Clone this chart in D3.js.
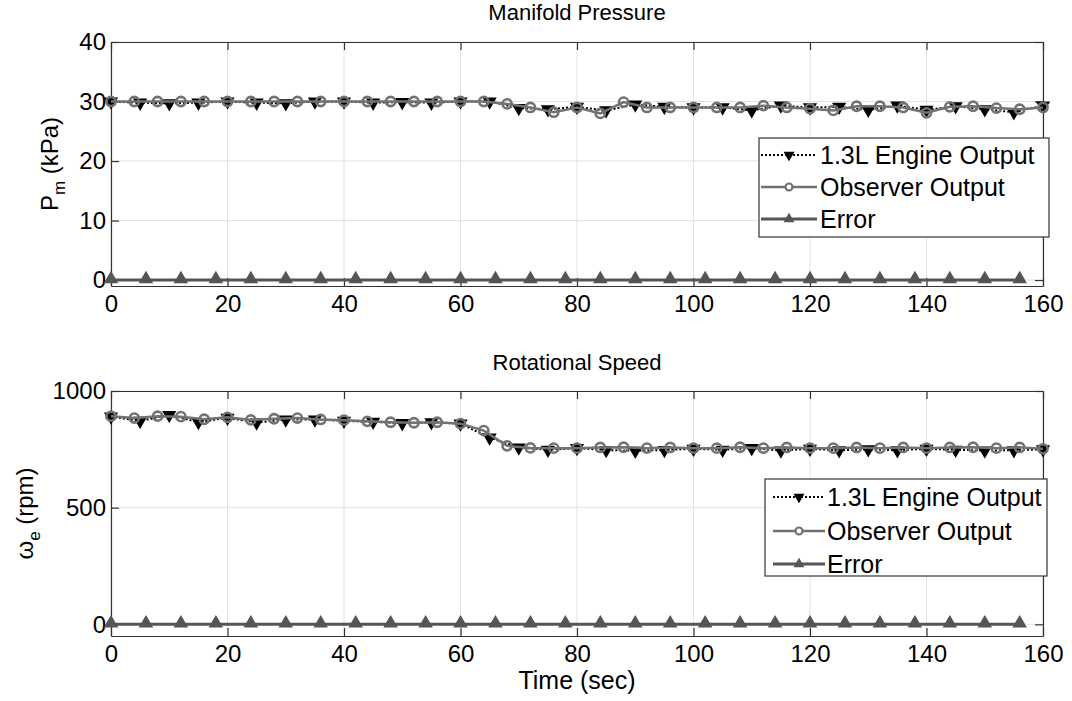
<!DOCTYPE html>
<html>
<head>
<meta charset="utf-8">
<script src="https://cdn.jsdelivr.net/npm/d3@7"></script>
<style>
  body { margin: 0; background: #fff; }
  svg { display: block; }
  text { font-family: "Liberation Sans", Arial, sans-serif; fill: #000; }
</style>
</head>
<body>
<svg id="chart" width="1072" height="701"></svg>
<script>
// ---- data ----
const xTicks = [0, 20, 40, 60, 80, 100, 120, 140, 160];

const engineTime = [0, 5, 10, 15, 20, 25, 30, 35, 40, 45, 50, 55, 60, 65, 70, 75, 80,
  85, 90, 95, 100, 105, 110, 115, 120, 125, 130, 135, 140, 145, 150, 155, 160];
const observerTime = [0, 4, 8, 12, 16, 20, 24, 28, 32, 36, 40, 44, 48, 52, 56, 60, 64,
  68, 72, 76, 80, 84, 88, 92, 96, 100, 104, 108, 112, 116, 120, 124, 128, 132, 136, 140,
  144, 148, 152, 156, 160];
const errorTime = [0, 6, 12, 18, 24, 30, 36, 42, 48, 54, 60, 66, 72, 78, 84, 90, 96,
  102, 108, 114, 120, 126, 132, 138, 144, 150, 156];

// Manifold pressure (kPa)
const pTicks = [0, 10, 20, 30, 40];
const engineP = [30, 29.8, 29.7, 29.8, 30, 29.8, 29.7, 30, 30, 29.8, 29.9, 29.8, 30, 30,
  28.9, 28.7, 29.1, 28.5, 29.5, 29.1, 29.0, 29.0, 28.5, 29.3, 29.0, 29.1, 28.6, 29.3,
  28.6, 29.2, 28.7, 28.2, 29.3];
const observerP = [30, 30, 30, 30, 30, 30, 30, 30, 30, 30, 30, 30, 30, 30, 30, 30, 30,
  29.6, 29.0, 28.2, 29.0, 28.0, 29.9, 29.0, 29.0, 29.0, 29.0, 29.0, 29.3, 29.0, 28.8,
  28.5, 29.2, 29.2, 29.0, 28.1, 29.1, 29.2, 28.9, 28.7, 29.0];
const errorP = [0, 0, 0, 0, 0, 0, 0, 0, 0, 0, 0, 0, 0, 0, 0, 0, 0, 0, 0, 0, 0, 0, 0, 0, 0, 0, 0];

// Rotational speed (rpm)
const wTicks = [0, 500, 1000];
const engineW = [890, 872, 897, 867, 885, 865, 878, 878, 872, 868, 862, 866, 860, 800,
  758, 748, 755, 747, 744, 747, 752, 748, 755, 745, 752, 746, 750, 746, 752, 748, 745,
  746, 750];
const observerW = [892, 884, 892, 890, 879, 887, 876, 881, 884, 878, 875, 870, 866, 864,
  866, 860, 830, 765, 756, 755, 755, 758, 759, 755, 758, 755, 755, 759, 755, 758, 755,
  755, 758, 755, 758, 755, 758, 759, 755, 758, 752];
const errorW = [0, 0, 0, 0, 0, 0, 0, 0, 0, 0, 0, 0, 0, 0, 0, 0, 0, 0, 0, 0, 0, 0, 0, 0, 0, 0, 0];

const legendNames = ["1.3L Engine Output", "Observer Output", "Error"];

// ---- drawing ----
const svg = d3.select("#chart");
const AX = "#333";
const ENG = "#000", OBS = "#727272", ERR = "#555";

const triDown = d3.symbol().type(d3.symbolTriangle).size(58);
const triUp = d3.symbol().type(d3.symbolTriangle).size(62);
const triSmall = d3.symbol().type(d3.symbolTriangle).size(34);

function zip(ts, vs) { return ts.map((t, i) => ({ t, v: vs[i] })); }

function drawPanel(cfg) {
  const g = svg.append("g");
  const x = d3.scaleLinear().domain([0, 160]).range([cfg.left, cfg.right]);
  const y = d3.scaleLinear().domain(cfg.yDomain).range([cfg.bottom, cfg.top]);

  // grid
  g.append("g").selectAll("line").data(xTicks).join("line")
    .attr("x1", d => x(d)).attr("x2", d => x(d))
    .attr("y1", cfg.top).attr("y2", cfg.bottom)
    .attr("stroke", "#e2e2e2").attr("stroke-width", 1);
  g.append("g").selectAll("line").data(cfg.yTicks).join("line")
    .attr("x1", cfg.left).attr("x2", cfg.right)
    .attr("y1", d => y(d)).attr("y2", d => y(d))
    .attr("stroke", "#e2e2e2").attr("stroke-width", 1);

  // axes (ticks inward on all four sides)
  const fmt = d3.format("d");
  const xb = g.append("g").attr("transform", `translate(0,${cfg.bottom})`)
    .call(d3.axisBottom(x).tickValues(xTicks).tickFormat(fmt).tickSizeInner(-8).tickSizeOuter(0).tickPadding(9));
  const xt = g.append("g").attr("transform", `translate(0,${cfg.top})`)
    .call(d3.axisTop(x).tickValues(xTicks).tickSizeInner(-8).tickSizeOuter(0).tickFormat(""));
  const yl = g.append("g").attr("transform", `translate(${cfg.left},0)`)
    .call(d3.axisLeft(y).tickValues(cfg.yTicks).tickFormat(fmt).tickSizeInner(-8).tickSizeOuter(0).tickPadding(5));
  const yr = g.append("g").attr("transform", `translate(${cfg.right},0)`)
    .call(d3.axisRight(y).tickValues(cfg.yTicks).tickSizeInner(-8).tickSizeOuter(0).tickFormat(""));
  [xb, xt, yl, yr].forEach(a => {
    a.select(".domain").attr("stroke", AX).attr("stroke-width", 1.2);
    a.selectAll(".tick line").attr("stroke", AX).attr("stroke-width", 1.2);
    a.selectAll("text").attr("font-size", 24).attr("fill", "#000")
      .attr("font-family", "'Liberation Sans', Arial, sans-serif");
  });

  const line = d3.line().x(d => x(d.t)).y(d => y(d.v));

  // engine output: dotted black with down triangles
  const eng = zip(engineTime, cfg.engine);
  g.append("path").datum(eng).attr("d", line).attr("fill", "none")
    .attr("stroke", ENG).attr("stroke-width", 2).attr("stroke-dasharray", "2,2");
  g.append("g").selectAll("path").data(eng).join("path")
    .attr("d", triDown)
    .attr("transform", d => `translate(${x(d.t)},${y(d.v)}) rotate(180)`)
    .attr("fill", ENG).attr("stroke", ENG).attr("stroke-width", 1.5);

  // observer output: solid grey with open circles
  const obs = zip(observerTime, cfg.observer);
  g.append("path").datum(obs).attr("d", line).attr("fill", "none")
    .attr("stroke", OBS).attr("stroke-width", 2.5);
  g.append("g").selectAll("circle").data(obs).join("circle")
    .attr("cx", d => x(d.t)).attr("cy", d => y(d.v)).attr("r", 4.6)
    .attr("fill", "none").attr("stroke", OBS).attr("stroke-width", 2.6);

  // error: solid dark grey with up triangles
  const err = zip(errorTime, cfg.error);
  g.append("path").datum(err).attr("d", line).attr("fill", "none")
    .attr("stroke", ERR).attr("stroke-width", 3);
  g.append("g").selectAll("path").data(err).join("path")
    .attr("d", triUp)
    .attr("transform", d => `translate(${x(d.t)},${y(d.v) - 1})`)
    .attr("fill", ERR).attr("stroke", ERR).attr("stroke-width", 1.5);

  // title
  svg.append("text").attr("x", (cfg.left + cfg.right) / 2).attr("y", cfg.titleY)
    .attr("text-anchor", "middle").attr("font-size", 22).text(cfg.title);

  // y label with subscript
  const yt = svg.append("text")
    .attr("transform", `translate(${cfg.ylabelX},${(cfg.top + cfg.bottom) / 2}) rotate(-90)`)
    .attr("text-anchor", "middle").attr("font-size", 24);
  yt.append("tspan").text(cfg.ylabel[0]);
  yt.append("tspan").attr("dy", 7).attr("font-size", 17).text(cfg.ylabel[1]);
  yt.append("tspan").attr("dy", -7).text(" " + cfg.ylabel[2]);

  // legend
  const L = cfg.legend;
  const lg = svg.append("g");
  lg.append("rect").attr("x", L.x).attr("y", L.y).attr("width", L.w).attr("height", L.h)
    .attr("fill", "#fff").attr("stroke", AX).attr("stroke-width", 1.2);
  const styles = [
    { c: ENG, w: 2, dash: "2,2", m: "down" },
    { c: OBS, w: 2.5, dash: null, m: "circle" },
    { c: ERR, w: 3, dash: null, m: "up" }
  ];
  legendNames.forEach((name, i) => {
    const cy = L.rows[i], s = styles[i];
    const mx = (L.x1 + L.x2) / 2;
    lg.append("line").attr("x1", L.x1).attr("x2", L.x2).attr("y1", cy).attr("y2", cy)
      .attr("stroke", s.c).attr("stroke-width", s.w).attr("stroke-dasharray", s.dash);
    if (s.m === "circle") {
      lg.append("circle").attr("cx", mx).attr("cy", cy).attr("r", 3.5)
        .attr("fill", "#fff").attr("stroke", s.c).attr("stroke-width", 2.2);
    } else {
      lg.append("path").attr("d", triSmall)
        .attr("transform", `translate(${mx},${cy}) rotate(${s.m === "down" ? 180 : 0})`)
        .attr("fill", s.c).attr("stroke", s.c).attr("stroke-width", 1.2);
    }
    lg.append("text").attr("x", L.tx).attr("y", cy).attr("dy", "0.35em")
      .attr("font-size", 25).text(name);
  });
}

drawPanel({
  left: 111, right: 1043, top: 42, bottom: 286,
  yDomain: [-1, 40], yTicks: pTicks,
  engine: engineP, observer: observerP, error: errorP,
  title: "Manifold Pressure", titleY: 20,
  ylabel: ["P", "m", "(kPa)"], ylabelX: 58,
  legend: { x: 759, y: 138, w: 290, h: 99, rows: [155, 187, 219], x1: 761, x2: 817, tx: 820 }
});

drawPanel({
  left: 111, right: 1043, top: 391, bottom: 636,
  yDomain: [-50, 1000], yTicks: wTicks,
  engine: engineW, observer: observerW, error: errorW,
  title: "Rotational Speed", titleY: 370,
  ylabel: ["ω", "e", "(rpm)"], ylabelX: 33,
  legend: { x: 765, y: 479, w: 282, h: 97, rows: [497, 531, 564], x1: 773, x2: 825, tx: 827 }
});

svg.append("text").attr("x", 577).attr("y", 689).attr("text-anchor", "middle")
  .attr("font-size", 25).text("Time (sec)");
</script>
</body>
</html>
